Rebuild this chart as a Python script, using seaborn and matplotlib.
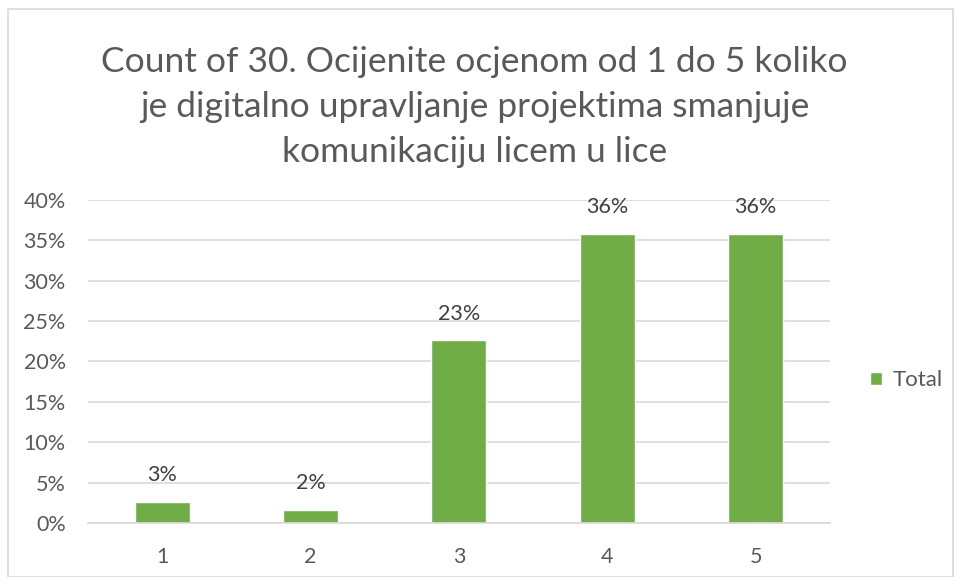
import matplotlib
matplotlib.use("Agg")
import matplotlib.pyplot as plt
import seaborn as sns
import pandas as pd
from matplotlib.patches import Rectangle
from matplotlib.ticker import PercentFormatter

# Data
categories = ["1", "2", "3", "4", "5"]
shares = [0.026, 0.016, 0.226, 0.358, 0.358]
series_name = "Total"
title = ("Count of 30. Ocijenite ocjenom od 1 do 5 koliko\n"
         "je digitalno upravljanje projektima smanjuje\n"
         "komunikaciju licem u lice")

GREEN = "#70AD47"
TEXT = "#595959"
GRID = "#D9D9D9"

sns.set_style("white")
plt.rcParams['font.family'] = ['Lato', 'DejaVu Sans']

df = pd.DataFrame({"Rating": categories, "Share": shares})

fig = plt.figure(figsize=(9.55, 5.77), dpi=100)
ax = fig.add_axes([0.092, 0.0936, 0.777, 0.5598])

sns.barplot(data=df, x="Rating", y="Share", color=GREEN, width=0.37,
            saturation=1, ax=ax, label=series_name)

ax.set_ylim(0, 0.40)
ax.set_xlim(-0.5, len(categories) - 0.5)
ax.yaxis.set_major_locator(plt.MultipleLocator(0.05))
ax.yaxis.set_major_formatter(PercentFormatter(1.0, decimals=0))
ax.grid(axis="y", color=GRID, linewidth=1.2)
ax.set_axisbelow(True)
ax.set_xlabel("")
ax.set_ylabel("")

for side in ["top", "right", "left"]:
    ax.spines[side].set_visible(False)
ax.spines["bottom"].set_color(GRID)
ax.spines["bottom"].set_linewidth(1.2)

ax.tick_params(axis="y", length=0, labelsize=15.5, labelcolor=TEXT, pad=16)
ax.tick_params(axis="x", which="major", length=0, labelsize=15.5, labelcolor=TEXT, pad=17)
ax.set_xticks([i - 0.5 for i in range(len(categories) + 1)], minor=True)
ax.tick_params(axis="x", which="minor", length=6, color=GRID, width=1.2)

for cont in ax.containers:
    ax.bar_label(cont, labels=[f"{v*100:.0f}%" for v in shares],
                 padding=12, fontsize=15.5, color="#404040")

ax.legend(loc="center left", bbox_to_anchor=(0.89, 0.341),
          bbox_transform=fig.transFigure, frameon=False,
          handlelength=0.55, handleheight=0.55, handletextpad=0.45,
          prop={"size": 16}, labelcolor=TEXT)

fig.text(0.497, 0.815, title, ha="center", va="center", fontsize=25.5,
         color=TEXT, linespacing=1.5)

fig.patches.append(Rectangle((0.008, 0.0), 0.99, 0.985, transform=fig.transFigure,
                             fill=False, edgecolor=GRID, linewidth=1.2))

fig.savefig("out.png", dpi=100)
